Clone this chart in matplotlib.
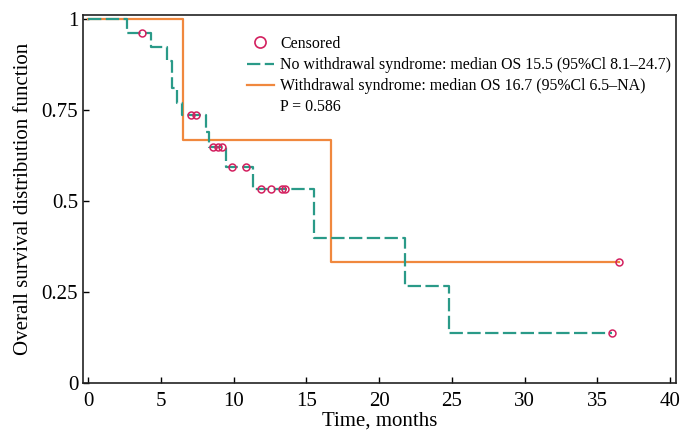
import numpy as np
import matplotlib
matplotlib.use("Agg")
import matplotlib.pyplot as plt
from matplotlib.lines import Line2D

# Kaplan-Meier steps
t_no = [0, 2.66, 4.31, 5.41, 5.8, 6.14, 6.44, 8.09, 8.34, 9.48, 11.32, 15.53, 21.8, 24.8, 36.0]
s_no = [1, 0.961, 0.924, 0.884, 0.811, 0.770, 0.736, 0.690, 0.648, 0.595, 0.534, 0.400, 0.267, 0.137, 0.137]
cens_t_no = [3.69, 7.08, 7.42, 8.6, 8.9, 9.2, 9.88, 10.84, 11.9, 12.6, 13.3, 13.5, 36.0]
cens_s_no = [0.961, 0.736, 0.736, 0.648, 0.648, 0.648, 0.595, 0.595, 0.534, 0.534, 0.534, 0.534, 0.137]

t_wd = [0, 6.5, 16.7, 36.5]
s_wd = [1, 0.667, 0.333, 0.333]
cens_t_wd = [36.5]
cens_s_wd = [0.333]

xticks = [0, 5, 10, 15, 20, 25, 30, 35, 40]
yticks = [0, 0.25, 0.5, 0.75, 1]
ytick_labels = ["0", "0.25", "0.5", "0.75", "1"]

green = "#2a9a88"
orange = "#f0883e"
red = "#d3205f"

plt.rcParams["font.family"] = ["Liberation Serif", "DejaVu Serif"]

fig = plt.figure(figsize=(6.92, 4.32), dpi=100)
ax = fig.add_axes([0.12, 0.113, 0.857, 0.853])

ax.step(t_wd, s_wd, where="post", color=orange, lw=1.6)
ax.step(t_no, s_no, where="post", color=green, lw=1.6, dashes=(6, 2))
ax.plot(cens_t_no, cens_s_no, "o", mfc="none", mec=red, ms=5, mew=1.1)
ax.plot(cens_t_wd, cens_s_wd, "o", mfc="none", mec=red, ms=5, mew=1.1)

ax.set_xlim(-0.34, 40.4)
ax.set_ylim(0, 1.012)
ax.set_xticks(xticks)
ax.set_yticks(yticks)
ax.set_yticklabels(ytick_labels)
ax.tick_params(direction="in", length=4, labelsize=15, width=1)
ax.tick_params(axis="x", pad=6)
for sp in ax.spines.values():
    sp.set_color("#222222")
    sp.set_linewidth(1.2)

ax.set_xlabel("Time, months", fontsize=15, labelpad=1)
ax.set_ylabel("Overall survival distribution function", fontsize=15, labelpad=6)

handles = [
    Line2D([], [], ls="none", marker="o", mfc="none", mec=red, ms=8, mew=1.2),
    Line2D([], [], color=green, lw=1.6, dashes=(6, 2)),
    Line2D([], [], color=orange, lw=1.6),
    Line2D([], [], ls="none"),
]
labels = [
    "Censored",
    "No withdrawal syndrome: median OS 15.5 (95%Cl 8.1\u201324.7)",
    "Withdrawal syndrome: median OS 16.7 (95%Cl 6.5\u2013NA)",
    "P = 0.586",
]
ax.legend(handles, labels, loc="upper left", bbox_to_anchor=(0.345, 0.935),
          bbox_transform=fig.transFigure, frameon=False, fontsize=11.4,
          handlelength=1.7, handletextpad=0.4, labelspacing=0.32, borderpad=0)

fig.savefig("out.png", dpi=100)
